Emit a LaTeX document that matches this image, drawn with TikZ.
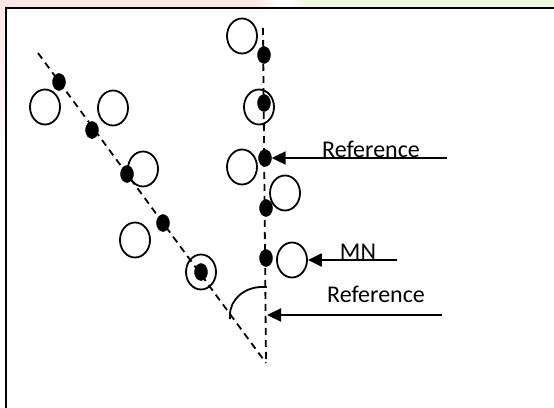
\documentclass[tikz,border=0pt]{standalone}
\usepackage{fontspec}
\setmainfont{Carlito}
\usetikzlibrary{shapes.geometric,arrows.meta}
\definecolor{bgpink}{HTML}{FCE6E6}
\definecolor{bggreen}{HTML}{EEF8E2}
\tikzset{
  dotnode/.style={ellipse,fill=black,draw=black,inner sep=0pt,minimum width=13pt,minimum height=17pt},
  ringnode/.style={ellipse,draw=black,line width=1.8pt,inner sep=0pt,minimum width=30pt,minimum height=35pt},
  dashline/.style={line width=1.8pt,dash pattern=on 7pt off 5pt},
  arrowline/.style={line width=2.2pt,-{Triangle[length=14pt,width=13pt]}},
  lbl/.style={font=\fontsize{24}{28}\selectfont,inner sep=0pt,anchor=base}
}
\begin{document}
\begin{tikzpicture}[x=1pt,y=-1pt]
\useasboundingbox (0,0) rectangle (554,407);
\clip (0,0) rectangle (554,407);
% background bands
\fill[white] (0,0) rectangle (554,407);
\fill[bgpink] (0,0) rectangle (255,7);
\shade[left color=bgpink,right color=white] (255,0) rectangle (276,7);
\shade[left color=white,right color=bggreen] (288,0) rectangle (305,7);
\fill[bggreen] (305,0) rectangle (554,7);
\shade[top color=bgpink,bottom color=white] (0,7) rectangle (4,170);
% frame (left and top edges visible)
\draw[line width=2pt] (5.5,420) -- (5.5,8) -- (600,8);

% dashed lines
\coordinate (dstart) at (38,53);
\coordinate (apex) at (266,363);
\coordinate (vtop) at (263,28);
\draw[dashline] (dstart) -- (apex);
\draw[dashline] (vtop) -- (apex);

% dots on diagonal
\node[dotnode] (d1) at (59,82) {};
\node[dotnode] (d2) at (92,130) {};
\node[dotnode] (d3) at (127,174) {};
\node[dotnode] (d4) at (163,223) {};
\node[dotnode] (d5) at (201,272) {};
% rings near diagonal
\node[ringnode] (c1) at (45,107) {};
\node[ringnode] (c2) at (113,108) {};
\node[ringnode] (c3) at (143,169) {};
\node[ringnode] (c4) at (135,240) {};
\node[ringnode] (c5) at (201,272) {};

% dots on vertical
\node[dotnode] (v1) at (264,55) {};
\node[dotnode] (v2) at (264,103) {};
\node[dotnode] (v3) at (265,158) {};
\node[dotnode] (v4) at (266,208) {};
\node[dotnode] (v5) at (266,258) {};
% rings near vertical
\node[ringnode] (r1) at (242,36) {};
\node[ringnode] (r2) at (259,107) {};
\node[ringnode] (r3) at (242,167) {};
\node[ringnode] (r4) at (285,193) {};
\node[ringnode] (r5) at (292,260) {};

% angle arc
\draw[line width=1.8pt] (267,287) -- (262,287) arc[start angle=-90,end angle=-180,x radius=32,y radius=28] -- (230,319);

% arrows and labels
\coordinate (a1) at (447,158);
\draw[arrowline] (a1) -- (v3.east);
\node[lbl] (t1) at (371,157) {Reference};

\coordinate (a2) at (397,260);
\draw[arrowline] (a2) -- (r5.east);
\node[lbl] (t2) at (358,259) {MN};

\coordinate (a3) at (442,315);
\coordinate (a3t) at (267,315);
\draw[arrowline] (a3) -- (a3t);
\node[lbl] (t3) at (376,302) {Reference};
\end{tikzpicture}
\end{document}
